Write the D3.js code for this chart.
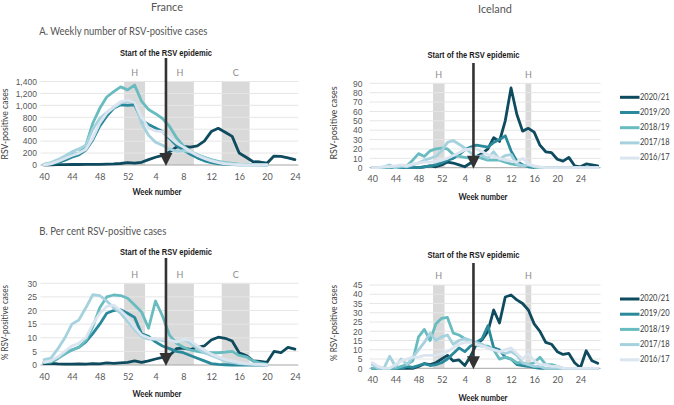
<!DOCTYPE html>
<html><head><meta charset="utf-8">
<script src="https://cdn.jsdelivr.net/npm/d3@7"></script>
<style>body{margin:0;background:#fff}svg{display:block}</style>
</head><body><svg id="c" width="674" height="405"></svg>
<script>
// ---------- DATA ----------
const weeks = [40,41,42,43,44,45,46,47,48,49,50,51,52,1,2,3,4,5,6,7,8,9,10,11,12,13,14,15,16,17,18,19,20,21,22,23,24,25,26,27];
const seasons = ["2020/21","2019/20","2018/19","2017/18","2016/17"];
const seasonColors = ["#0e4b5e","#2a8a9c","#68bcc0","#a5d2de","#dbe5f0"];
const xTickWeeks = [40,44,48,52,4,8,12,16,20,24];
const frCasesTicks = [0,200,400,600,800,1000,1200,1400];
const frPctTicks = [0,5,10,15,20,25,30];
const isCasesTicks = [0,10,20,30,40,50,60,70,80,90];
const isPctTicks = [0,5,10,15,20,25,30,35,40,45];
const frShades = [[52,2,"H"],[6,9,"H"],[14,17,"C"]];
const isShades = [[51,52,"H"],[15,15,"H"]];
const epidemicStartWeek = 6;

// France, weekly number of RSV-positive cases
const frCases2021 = [0,2,5,5,8,8,10,10,12,15,18,25,40,30,45,90,130,160,220,300,310,300,320,400,560,615,550,480,200,130,55,50,30,150,145,120,90];
const frCases1920 = [10,20,40,80,130,170,250,420,650,820,950,1010,1000,1010,750,680,620,560,450,330,250,180,120,70,40,20,10,5,3,2,1,1,0];
const frCases1819 = [10,30,80,130,180,200,330,700,950,1140,1230,1310,1260,1340,1070,930,860,780,650,460,320,230,170,130,90,60,40,25,15,10,5,2,0];
const frCases1718 = [10,40,90,150,220,270,330,600,780,880,960,1040,1070,1060,700,500,380,330,270,230,240,220,170,120,80,50,30,20,10,5,3,1,0];
const frCases1617 = [0,20,60,110,160,200,260,450,700,870,980,1060,1090,1050,800,620,570,560,470,370,300,230,160,110,70,40,20,10,5,2,0,0,0];
// France, per cent RSV-positive
const frPct2021 = [0.5,0.6,0.4,0.3,0.3,0.4,0.3,0.5,0.4,0.8,0.6,0.8,1.0,1.5,1.0,1.5,2.2,2.8,3.5,6.0,6.2,5.7,6.5,7.0,9.2,10.2,9.8,8.8,4.5,3.5,1.5,1.3,1.0,5.0,4.5,6.5,5.8];
const frPct1920 = [1,1,2.5,4.5,5.5,6.5,8.5,11.5,15,19,20,20.3,19,17.5,11.5,10.5,8.5,7,6,5,4.5,3.5,2.5,1.5,0.5,0.2,0.1,0,0,0,0,0,0];
const frPct1819 = [1,1.2,2.5,4,5.5,6.5,9,14,21,25,25.7,25.5,24.5,22,19.5,13.5,23.5,18,11,8,6.5,5.5,5,4.5,4.5,4.5,4.7,5,3.5,3,1.5,0.8,0.3];
const frPct1718 = [2,2.5,6,10,15,16.5,21,25.8,25.5,23.5,21,19,16,13,10.5,9.5,9.5,9,9,8.5,9.5,8,6,4.5,3.5,2.5,1.5,1,0.5,0.3,0.2,0.1,0];
const frPct1617 = [1,1.5,3,5,7,8,10,15,19,21.5,22,20,17.5,14,11,10,9.5,9.5,9,8.5,9.5,9,7,5.5,4,3,2,1.5,1,0.5,0.3,0.2,0];
// Iceland, weekly number of RSV-positive cases
const isCases2021 = [0,0,0,0,0,0,0,0,0,1,2,1,3,6,5,3,1,5,12,15,20,32,28,50,85,57,39,42,38,24,17,16,9,7,11,2,1,4,3,2];
const isCases1920 = [0,0,0,0,0,0,0,0,0,1,2,3,5,8,10,14,19,22,24,23,22,27,30,34,18,7,3,1,0,0,0,0,0,0,0,0,0,0,0,0];
const isCases1819 = [0,0,0,1,0,1,2,8,15,12,18,20,21,20,14,12,11,10,12,10,8,8,8,6,4,3,2,3,1,0,0,0,0,0,0,0,0,0,0,0];
const isCases1718 = [0,0,1,3,0,2,1,3,5,8,10,12,18,27,29,25,21,16,11,13,10,17,9,13,14,4,2,3,1,0,0,0,0,0,0,0,0,0,0,0];
const isCases1617 = [0,0,1,1,2,3,2,4,5,6,6,7,8,10,13,16,19,20,20,17,14,12,10,8,7,6,10,4,2,1,0,0,0,0,0,0,0,0,0,0];
// Iceland, per cent RSV-positive
const isPct2021 = [0,0,0,0,0,0,0,0,1,2.5,2,3,5,7,4,4.5,1.5,6.5,13,15.5,20,31.5,24.5,38.5,39.6,37,35,31.5,24,20,14,13,9,7.5,8,3,0.3,9.5,4.1,2.7];
const isPct1920 = [0,0,0,0,0,0,1,0.5,1.5,2.5,1.5,2,3,5,8,11,9,12,14,16,23,11,10,6,5,2,1.5,1,0.5,0,0,0,0,0,0,0,0,0,0,0];
const isPct1819 = [0,0,0,0,0,1,2,4,17,21,15,24,27,27.5,19,18,16,15,12.5,12,12,10,5,6,5,3,3,2,3,6,2,2,1,0,0,0,0,0,0,0];
const isPct1718 = [2,0,0,6.5,1,5,2,6,10,14,19,15,17,18,13,15,16,15,14,13,11,10,9,8,9,7,3,2,1,1,0,0,0,0,0,0,0,0,0,0];
const isPct1617 = [3,1,0,0,2,4,5,6,6,7,7,7,8,9,11,13,14,14,13,12,11,10,9,10,11,8,5,8,4,2,2,1,1,0,0,0,0,0,0,0];

// ---------- LAYOUT ----------
const svg = d3.select("#c");
const FONT = "Lato, 'Liberation Sans', sans-serif";
const NARROW = "'Liberation Sans Narrow', 'Liberation Sans', sans-serif";
const idx = w => weeks.indexOf(w);

function fitText(sel, w){ sel.attr("textLength", w).attr("lengthAdjust","spacingAndGlyphs"); return sel; }

const panels = [
  {series:[frCases2021,frCases1920,frCases1819,frCases1718,frCases1617], ticks:frCasesTicks, fmt:d3.format(","),
   nIdx:37, xr:[44,294.9], yr:[165,81.5], shades:frShades, tickPad:3.6, xLabDy:11.7,
   ytitle:"RSV-positive cases", ytx:6, yty:124, ytw:71, epiY:53, arrTop:58, wnx:157, wny:193,
   title:"A. Weekly number of RSV-positive cases", titleY:32.3, titleW:168},
  {series:[frPct2021,frPct1920,frPct1819,frPct1718,frPct1617], ticks:frPctTicks, fmt:d3.format("d"),
   nIdx:37, xr:[44,294.9], yr:[365,283.3], shades:frShades, tickPad:3.6, xLabDy:11.7,
   ytitle:"% RSV-positive cases", ytx:6, yty:322.5, ytw:75, epiY:252.7, arrTop:258, wnx:157, wny:394.3,
   title:"B. Per cent RSV-positive cases", titleY:232.3, titleW:127},
  {series:[isCases2021,isCases1920,isCases1819,isCases1718,isCases1617], ticks:isCasesTicks, fmt:d3.format("d"),
   nIdx:40, xr:[372.3,580.4], yr:[167.7,83.3], shades:isShades, tickPad:7, xLabDy:10.8,
   ytitle:"RSV-positive cases", ytx:335, yty:123, ytw:73, epiY:55, arrTop:63, wnx:483, wny:197.5,
   legendY:97.3},
  {series:[isPct2021,isPct1920,isPct1819,isPct1718,isPct1617], ticks:isPctTicks, fmt:d3.format("d"),
   nIdx:40, xr:[372.3,580.4], yr:[368.3,285], shades:isShades, tickPad:7, xLabDy:11.7,
   ytitle:"% RSV-positive cases", ytx:335, yty:323, ytw:76, epiY:255, arrTop:263, wnx:483, wny:399,
   legendY:299}
];

// country titles
svg.append("text").attr("x",167).attr("y",7.5).attr("text-anchor","middle").attr("dominant-baseline","middle")
  .attr("font-family",FONT).attr("font-size",12).attr("fill","#555").text("France").call(fitText,32);
svg.append("text").attr("x",495).attr("y",9.5).attr("text-anchor","middle").attr("dominant-baseline","middle")
  .attr("font-family",FONT).attr("font-size",12).attr("fill","#555").text("Iceland").call(fitText,34);

panels.forEach(p => {
  const g = svg.append("g");
  const x = d3.scaleLinear().domain([0,36]).range(p.xr);
  const y = d3.scaleLinear().domain([0, p.ticks[p.ticks.length-1]]).range(p.yr);
  const xL = x(-0.5), xR = x(p.nIdx - 0.5);
  const yTop = y(p.ticks[p.ticks.length-1]);

  // shading
  p.shades.forEach(s => {
    const a = x(idx(s[0]) - 0.5), b = x(idx(s[1]) + 0.5);
    g.append("rect").attr("x",a).attr("y",yTop).attr("width",b-a).attr("height",y(0)-yTop).attr("fill","#d9d9d9");
    g.append("text").attr("x",(a+b)/2).attr("y",yTop-8).attr("text-anchor","middle").attr("dominant-baseline","middle")
      .attr("font-family",FONT).attr("font-size",9).attr("fill","#8c8c8c").text(s[2]);
  });

  // gridlines
  g.selectAll(".grid").data(p.ticks.slice(1)).join("line")
    .attr("x1",xL).attr("x2",xR).attr("y1",d=>y(d)).attr("y2",d=>y(d))
    .attr("stroke","#e6e6e6").attr("stroke-width",1);
  // baseline
  g.append("line").attr("x1",xL).attr("x2",xR).attr("y1",y(0)).attr("y2",y(0)).attr("stroke","#a6a6a6").attr("stroke-width",1);

  // y axis
  const ya = g.append("g").attr("transform",`translate(${xL},0)`)
    .call(d3.axisLeft(y).tickValues(p.ticks).tickFormat(p.fmt).tickSize(0).tickPadding(p.tickPad));
  ya.select(".domain").remove();
  ya.selectAll("text").attr("font-family",NARROW).attr("font-size",8.5).attr("fill","#595959");

  // x axis
  const xa = g.append("g").attr("transform",`translate(0,${y(0)})`)
    .call(d3.axisBottom(x).tickValues(xTickWeeks.map(idx)).tickFormat(i=>weeks[i]).tickSize(0).tickPadding(0));
  xa.select(".domain").remove();
  xa.selectAll("text").attr("y",p.xLabDy).attr("dy","0.35em").attr("font-family",FONT).attr("font-size",9).attr("fill","#595959");

  // lines
  const line = d3.line().x((d,i)=>x(i)).y(d=>y(d)).curve(d3.curveLinear);
  for (let k = 0; k < p.series.length; k++) {
    g.append("path").attr("d", line(p.series[k])).attr("fill","none")
      .attr("stroke", seasonColors[k]).attr("stroke-width",2.8)
      .attr("stroke-linejoin","round").attr("stroke-linecap","round");
  }

  // arrow
  const ax = x(idx(epidemicStartWeek) - 0.5);
  g.append("line").attr("x1",ax).attr("x2",ax).attr("y1",p.arrTop).attr("y2",y(0)-10)
    .attr("stroke","#333").attr("stroke-width",2.6);
  g.append("path").attr("d",`M${ax-6.5},${y(0)-12}L${ax+6.5},${y(0)-12}L${ax},${y(0)+1}Z`).attr("fill","#333");
  g.append("text").attr("x",ax).attr("y",p.epiY).attr("text-anchor","middle").attr("dominant-baseline","middle")
    .attr("font-family",NARROW).attr("font-weight","bold").attr("font-size",9.5).attr("fill","#1a1a1a")
    .text("Start of the RSV epidemic").call(fitText,92);

  // axis titles
  g.append("text").attr("transform",`translate(${p.ytx},${p.yty}) rotate(-90)`).attr("text-anchor","middle")
    .attr("dominant-baseline","middle").attr("font-family",FONT).attr("font-size",9.5).attr("fill","#404040")
    .text(p.ytitle).call(fitText,p.ytw);
  g.append("text").attr("x",p.wnx).attr("y",p.wny).attr("text-anchor","middle").attr("dominant-baseline","middle")
    .attr("font-family",FONT).attr("font-weight","bold").attr("font-size",9.5).attr("fill","#1a1a1a")
    .text("Week number").call(fitText,49);

  if (p.title) {
    svg.append("text").attr("x",39.3).attr("y",p.titleY).attr("dominant-baseline","middle")
      .attr("font-family",FONT).attr("font-size",10.5).attr("fill","#555").text(p.title).call(fitText,p.titleW);
  }

  if (p.legendY !== undefined) {
    const lg = svg.append("g");
    seasons.forEach((s,k) => {
      const ly = p.legendY + k*15.2;
      lg.append("line").attr("x1",620).attr("x2",639.5).attr("y1",ly).attr("y2",ly)
        .attr("stroke",seasonColors[k]).attr("stroke-width",3);
      lg.append("text").attr("x",640).attr("y",ly).attr("dominant-baseline","middle")
        .attr("font-family",FONT).attr("font-size",9).attr("fill","#404040").text(s).call(fitText,29.5);
    });
  }
});
</script></body></html>
